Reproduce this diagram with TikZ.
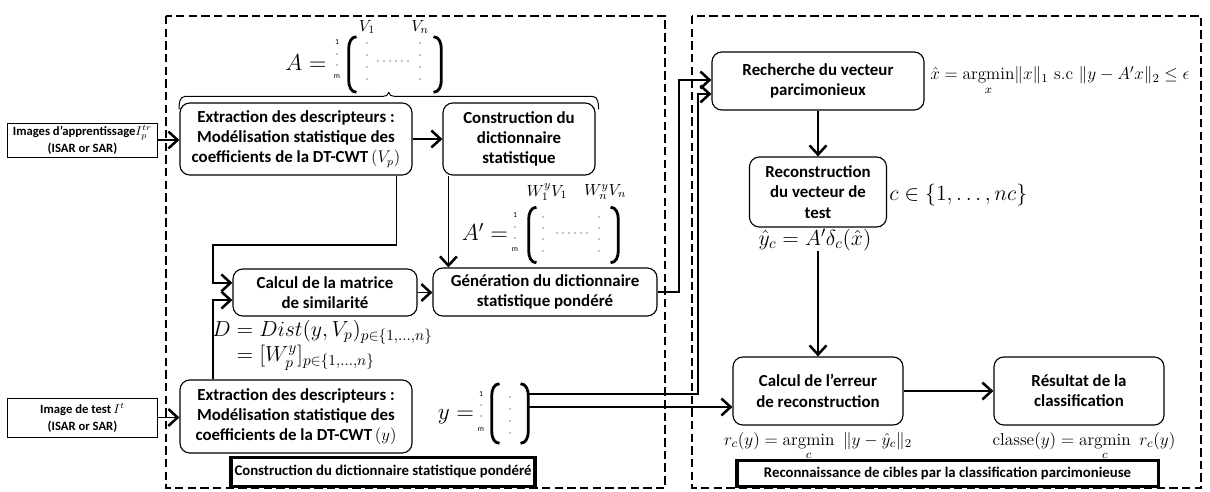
\RequirePackage{fix-cm}
\documentclass[tikz,border=0pt]{standalone}
\usepackage{amsmath}
\usepackage{fontspec}
\newfontfamily\carlito{Carlito}
\usepackage{tikz}
\usetikzlibrary{arrows.meta, calc, positioning}

\newcommand{\matbrackets}[1]{%
  \draw[bracket] ([xshift=5.5pt]#1.north west) to[out=180, in=90] ([yshift=-8.5pt]#1.north west)
    -- ([yshift=8.5pt]#1.south west) to[out=-90, in=180] ([xshift=5.5pt]#1.south west);
  \draw[bracket] ([xshift=-5.5pt]#1.north east) to[out=0, in=90] ([yshift=-8.5pt]#1.north east)
    -- ([yshift=8.5pt]#1.south east) to[out=-90, in=0] ([xshift=-5.5pt]#1.south east);
}

\begin{document}
\begin{tikzpicture}[x=0.025cm, y=-0.025cm]
\tikzset{
  stepbox/.style={draw, rounded corners=7pt, line width=0.8pt, align=center, inner sep=2pt,
    font=\carlito\bfseries\fontsize{12}{14.4}\selectfont},
  inbox/.style={draw, line width=0.7pt, align=center, inner sep=1pt,
    font=\carlito\bfseries\fontsize{9}{12}\selectfont},
  tagbox/.style={draw, line width=2.2pt, fill=white, inner sep=2pt,
    font=\carlito\bfseries\fontsize{10.5}{12}\selectfont},
  dashframe/.style={dash pattern=on 6pt off 3pt, line width=1.5pt},
  flow/.style={-{Straight Barb[length=6.5pt, width=12pt, line width=1.8pt]}, line width=1pt},
  link/.style={line width=0.7pt},
  eqbig/.style={inner sep=0pt, font=\fontsize{16.5}{19}\selectfont},
  eq/.style={inner sep=0pt, font=\fontsize{15.5}{15.5}\selectfont},
  eqsmall/.style={inner sep=0pt, font=\fontsize{12.3}{14}\selectfont},
  collab/.style={inner sep=0pt, font=\fontsize{11.5}{13}\selectfont},
  rowlab/.style={inner sep=0pt, font=\carlito\fontsize{5.5}{6}\selectfont},
  bracket/.style={line width=2pt},
}

\fill[white] (0,0) rectangle (1210,492);
\useasboundingbox (0,0) rectangle (1210,492);

\draw[dashframe] (166,16) rectangle (665,488);
\draw[dashframe] (692,16) rectangle (1201,488);

\node[inbox, minimum width=3.725cm, minimum height=0.85cm] (train) at (82.5,140) {Images d’apprentissage$I_p^{tr}$\\(ISAR or SAR)};
\node[inbox, minimum width=3.725cm, minimum height=0.975cm] (test) at (82.5,417.5) {Image de test$\,I^t$\\(ISAR or SAR)};

\node[stepbox, minimum width=5.8cm, minimum height=1.8cm] (extA) at (296,139) {Extraction des descripteurs :\\Modélisation statistique des\\coefficients de la DT-CWT$\,(V_p)$};
\node[stepbox, minimum width=3.8cm, minimum height=1.8cm] (dico) at (519,139) {Construction du\\dictionnaire\\statistique};
\node[stepbox, minimum width=4.6cm, minimum height=1.175cm] (simil) at (325,292.5) {Calcul de la matrice\\de similarité};
\node[stepbox, minimum width=5.6cm, minimum height=1.2cm] (ponder) at (545,292) {Génération du dictionnaire\\statistique pondéré};
\node[stepbox, minimum width=5.8cm, minimum height=1.825cm] (extB) at (296,416.5) {Extraction des descripteurs :\\Modélisation statistique des\\coefficients de la DT-CWT$\,(y)$};
\node[stepbox, minimum width=5.3cm, minimum height=1.45cm] (sparse) at (818,81) {Recherche du vecteur\\parcimonieux};
\node[stepbox, minimum width=3.425cm, minimum height=1.75cm] (recons) at (818,192) {Reconstruction\\du vecteur de\\test};
\node[stepbox, minimum width=4.25cm, minimum height=1.7cm] (resid) at (818,391) {Calcul de l’erreur\\de reconstruction};
\node[stepbox, minimum width=4.25cm, minimum height=1.7cm] (result) at (1079,391) {Résultat de la\\classification};

\node[tagbox, minimum width=7.6cm, minimum height=0.725cm, anchor=south] (tagL) at (383,488) {Construction du dictionnaire statistique pondéré};
\node[tagbox, minimum width=10.525cm, minimum height=0.65cm, anchor=south] (tagR) at (947.5,488) {Reconnaissance de cibles par la classification parcimonieuse};

\coordinate (braceL) at ([xshift=-0.01cm]extA.north west);
\coordinate (braceR) at ([xshift=0.075cm]dico.north east);
\coordinate (braceC) at ($(braceL)!0.5!(braceR)$);
\draw[link] ([yshift=-0.175cm]braceL) to[out=90, in=180] ([xshift=0.15cm, yshift=0.15cm]braceL)
  -- ([xshift=-0.15cm, yshift=0.15cm]braceC) to[out=0, in=-90] ([yshift=0.25cm]braceC)
  to[out=-90, in=180] ([xshift=0.15cm, yshift=0.15cm]braceC)
  -- ([xshift=-0.15cm, yshift=0.15cm]braceR) to[out=0, in=90] ([yshift=-0.175cm]braceR);

\node[eqbig] (Aeq) at (306,63) {$A =$};
\node[collab] (V1) at (367,27) {$V_1$};
\node[collab] (Vn) at (420,27) {$V_n$};
\node[inner sep=0pt, minimum width=2.3cm, minimum height=1.375cm] (Amat) at (395,64.5) {};
\matbrackets{Amat}
\node[rowlab] (Ar1) at (337,42) {1};
\node[rowlab] (Arm) at (337,77) {m};
\foreach \y in {54,65} \fill (337,\y) circle (0.4pt);
\foreach \y in {43,55,67,79} {\fill (367,\y) circle (0.4pt); \fill (420,\y) circle (0.4pt);}
\foreach \x in {378,384,...,408} \fill (\x,61) circle (0.4pt);

\node[eqbig] (Apeq) at (485,232) {$A' =$};
\node[collab] (W1) at (547,192) {$W_1^yV_1$};
\node[collab] (Wn) at (605,192) {$W_n^yV_n$};
\node[inner sep=0pt, minimum width=2.225cm, minimum height=1.375cm] (Apmat) at (573.5,235) {};
\matbrackets{Apmat}
\node[rowlab] (Apr1) at (515,215) {1};
\node[rowlab] (Aprm) at (515,250) {m};
\foreach \y in {227,238} \fill (515,\y) circle (0.4pt);
\foreach \y in {217,228,239,251} {\fill (543,\y) circle (0.4pt); \fill (599,\y) circle (0.4pt);}
\foreach \x in {557,563,...,587} \fill (\x,233) circle (0.4pt);

\node[eqbig] (yeq) at (456,417) {$y =$};
\node[inner sep=0pt, minimum width=0.9cm, minimum height=1.475cm] (yv) at (510,413.5) {};
\matbrackets{yv}
\node[rowlab] (yr1) at (481,394) {1};
\node[rowlab] (yrm) at (481,430) {m};
\foreach \y in {405,416} \fill (481,\y) circle (0.4pt);
\foreach \y in {397,409,421,433} \fill (510,\y) circle (0.4pt);

\node[eq, anchor=west] (Deq) at (212,345) {\setlength{\jot}{0pt}$\begin{aligned}D &= Dist(y,V_p)_{p\in\{1,\ldots,n\}}\\ &= [W_p^y]_{p\in\{1,\ldots,n\}}\end{aligned}$};
\node[eqsmall, anchor=base west] (xhat) at (930,80) {$\hat{x} = \mathop{\mathrm{argmin}}\limits_x\!\|x\|_1\ \mathrm{s.c}\ \|y-A'x\|_2 \le \epsilon$};
\node[eq, anchor=west] (cset) at (889,195) {$c \in \{1,\ldots,nc\}$};
\node[eq] (yhat) at (815,240) {$\hat{y}_c = A'\delta_c(\hat{x})$};
\node[eqsmall, anchor=base] (rc) at (818,445) {$r_c(y) = \mathop{\mathrm{argmin}}\limits_c\ \|y-\hat{y}_c\|_2$};
\node[eqsmall, anchor=base] (cls) at (1084,445) {$\mathrm{classe}(y) = \mathop{\mathrm{argmin}}\limits_c\ r_c(y)$};

\draw[flow] (train.east) -- (train.east -| extA.west);
\draw[flow] (test.east) -- (test.east -| extB.west);
\draw[flow] (extA.east) -- (extA.east -| dico.west);
\coordinate (dicoout) at ([xshift=0.15cm]dico.south west);
\draw[flow] (dicoout) -- (dicoout |- ponder.north);
\coordinate (extAout) at ([xshift=-0.4cm]extA.south east);
\coordinate (bend) at (213,245);
\draw[flow] (extAout) |- (bend) |- ([yshift=0.24cm]simil.west);
\draw[flow] (bend |- extB.north) |- ([yshift=-0.19cm]simil.west);
\draw[flow] (simil.east) -- (simil.east -| ponder.west);

\coordinate (upA) at (679,80);
\draw[flow] (ponder.east) -| (upA) -- (upA -| sparse.west);
\coordinate (yvA) at ([yshift=0.4875cm]yv.east);
\coordinate (upB) at (698,94);
\draw[flow] (yvA) -| (upB) -- (upB -| sparse.west);
\coordinate (yvB) at ([yshift=0.1625cm]yv.east);
\draw[flow] (yvB) -- (yvB -| resid.west);

\draw[flow] (sparse.south) -- (recons.north);
\draw[flow] (resid.north |- yhat.south) -- (resid.north);
\draw[flow] (resid.east) -- (result.west);

\end{tikzpicture}
\end{document}
